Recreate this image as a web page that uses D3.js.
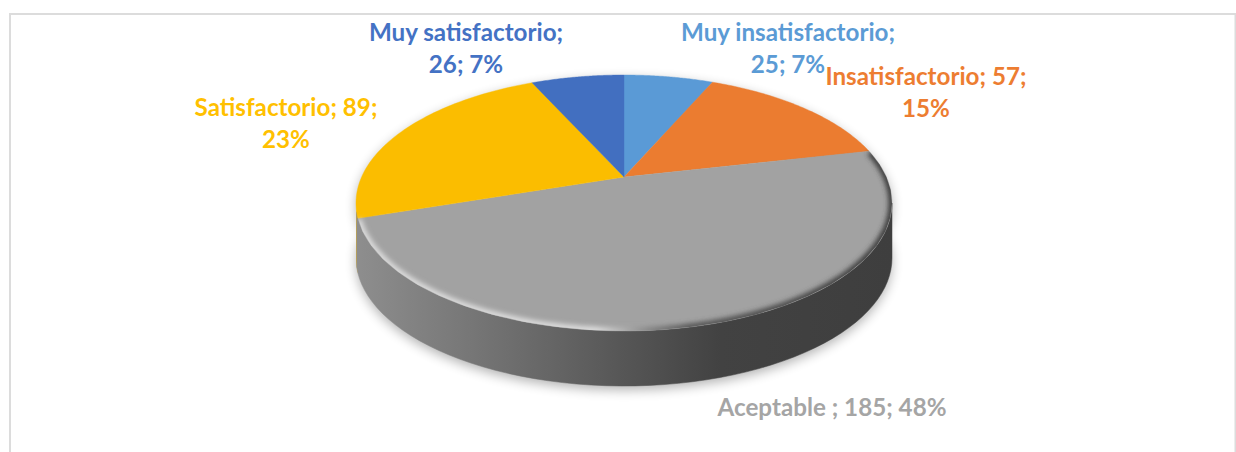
<!DOCTYPE html>
<html>
<head>
<meta charset="utf-8">
<script src="https://cdn.jsdelivr.net/npm/d3@7"></script>
<style>
  html, body { margin: 0; padding: 0; background: #fff; }
  svg { display: block; }
  text { font-family: Lato, "Open Sans", sans-serif; font-weight: 700; font-size: 24.2px; text-anchor: middle; }
</style>
</head>
<body>
<div id="main"></div>
<script>
// **** Data ****
var categories = ["Muy insatisfactorio", "Insatisfactorio", "Aceptable ", "Satisfactorio", "Muy satisfactorio"];
var counts = [25, 57, 185, 89, 26];
var colors = ["#5a9ad6", "#eb7c30", "#a2a2a2", "#fbbd00", "#426fc0"];
var labelColors = ["#5b9bd5", "#ed7d31", "#a5a5a5", "#ffc000", "#4472c4"];

// **** Label placement: x, first baseline, and how the text wraps ****
var labelPos = [
  {x: 788, y: 41, wrap: 1},
  {x: 926, y: 85, wrap: 2},
  {x: 832, y: 416, wrap: 0},
  {x: 286, y: 116, wrap: 2},
  {x: 466, y: 41, wrap: 1}
];

var width = 1236, height = 452;

// **** Geometry of the tilted disc ****
var cx = 624, cy = 203, rx = 268, ry = 128, depth = 55;
var tilt = 0.203;   // moves the pie centre up from the ellipse centre

var svg = d3.select("#main").append("svg")
  .attr("width", width)
  .attr("height", height);

var defs = svg.append("defs");

var blurShadow = defs.append("filter").attr("id", "blurShadow")
  .attr("x", "-10%").attr("y", "-10%").attr("width", "120%").attr("height", "120%");
blurShadow.append("feGaussianBlur").attr("stdDeviation", 6);

var blurEdge = defs.append("filter").attr("id", "blurEdge")
  .attr("x", "-10%").attr("y", "-10%").attr("width", "120%").attr("height", "120%");
blurEdge.append("feGaussianBlur").attr("stdDeviation", 2.4);

var sideGrad = defs.append("linearGradient").attr("id", "sideGrad")
  .attr("gradientUnits", "userSpaceOnUse")
  .attr("x1", cx - rx).attr("x2", cx + rx).attr("y1", 0).attr("y2", 0);
[[0, "#8e8e8e"], [0.2, "#787878"], [0.5, "#565656"], [0.68, "#424242"], [1, "#3e3e3e"]].forEach(function(s) {
  sideGrad.append("stop").attr("offset", s[0]).attr("stop-color", s[1]);
});

var edgeGrad = defs.append("linearGradient").attr("id", "edgeGrad")
  .attr("gradientUnits", "userSpaceOnUse")
  .attr("x1", cx - rx).attr("x2", cx + rx).attr("y1", 0).attr("y2", 0);
[[0, "#dcdcdc"], [0.45, "#dedede"], [0.54, "#8a8a8a"], [0.62, "#555555"], [1, "#3a3a3a"]].forEach(function(s) {
  edgeGrad.append("stop").attr("offset", s[0]).attr("stop-color", s[1]);
});

// **** Angle on the pie -> screen point ****
function project(angle, r) {
  var X = r * Math.sin(angle), Y = -r * Math.cos(angle);
  var d = 1 - tilt * Y;
  return [
    cx + rx * X * Math.sqrt(1 - tilt * tilt) / d,
    cy + ry * (Y - tilt) / d
  ];
}

function rim(a0, a1) {
  return d3.range(0, 61).map(function(i) {
    return project(a0 + (a1 - a0) * i / 60, 1);
  });
}

var line = d3.line();

var pie = d3.pie().sort(null);
var arcs = pie(counts);

// the wall only shows between the two side extremes of the ellipse
var sideStart = Math.acos(-tilt), sideEnd = 2 * Math.PI - sideStart;

function wall(a0, a1) {
  var upper = rim(a0, a1);
  var lower = upper.map(function(p) { return [p[0], p[1] + depth]; }).reverse();
  return line(upper.concat(lower)) + "Z";
}

// **** Chart frame ****
svg.append("path")
  .attr("d", "M10,452V14H1235.5V452")
  .attr("fill", "none")
  .attr("stroke", "#dcdcdc")
  .attr("stroke-width", 2);

// **** Soft shadow under the disc ****
svg.append("path")
  .attr("d", wall(0, 2 * Math.PI))
  .attr("transform", "translate(0,4)")
  .attr("fill", "#000")
  .attr("opacity", 0.3)
  .attr("filter", "url(#blurShadow)");

// **** Side wall ****
// the big slice is drawn last and a little past its end so only a sliver of yellow stays
svg.append("g").selectAll("path")
  .data(arcs.filter(function(d) { return d.endAngle > sideStart && d.startAngle < sideEnd; }).reverse())
  .enter().append("path")
  .attr("d", function(d) {
    var end = d.index == 2 ? d.endAngle + 0.05 : d.endAngle;
    return wall(Math.max(d.startAngle, sideStart), Math.min(end, sideEnd));
  })
  .attr("fill", function(d) { return d.index == 2 ? "url(#sideGrad)" : colors[d.index]; })
  .attr("stroke", function(d) { return d.index == 2 ? "url(#sideGrad)" : "none"; })
  .attr("stroke-width", 0.5);

// **** Top face ****
svg.append("g").selectAll("path")
  .data(arcs)
  .enter().append("path")
  .attr("d", function(d) {
    return line([project(0, 0)].concat(rim(d.startAngle, d.endAngle))) + "Z";
  })
  .attr("fill", function(d) { return colors[d.index]; })
  .attr("stroke", function(d) { return colors[d.index]; })
  .attr("stroke-width", 0.4);

// **** Bevel on the big slice ****
defs.append("clipPath").attr("id", "faceClip")
  .append("path")
  .attr("d", line(rim(0, 2 * Math.PI)) + "Z");

svg.append("g")
  .attr("clip-path", "url(#faceClip)")
  .append("path")
  .attr("d", line(rim(arcs[2].startAngle + 0.01, arcs[2].endAngle - 0.01)))
  .attr("fill", "none")
  .attr("stroke", "url(#edgeGrad)")
  .attr("stroke-width", 7)
  .attr("filter", "url(#blurEdge)");

// **** Labels ****
var pct = d3.format(".0%");
var total = d3.sum(counts);

var labels = svg.append("g").selectAll("text")
  .data(categories)
  .enter().append("text")
  .attr("fill", function(d, i) { return labelColors[i]; });

labels.each(function(name, i) {
  var parts = [name + ";", counts[i] + ";", pct(counts[i] / total)];
  var pos = labelPos[i];
  var rows = pos.wrap == 0 ? [parts.join(" ")]
    : [parts.slice(0, pos.wrap).join(" "), parts.slice(pos.wrap).join(" ")];
  d3.select(this).selectAll("tspan")
    .data(rows)
    .enter().append("tspan")
    .attr("x", pos.x)
    .attr("y", function(d, j) { return pos.y + j * 32; })
    .text(function(d) { return d; });
});
</script>
</body>
</html>
